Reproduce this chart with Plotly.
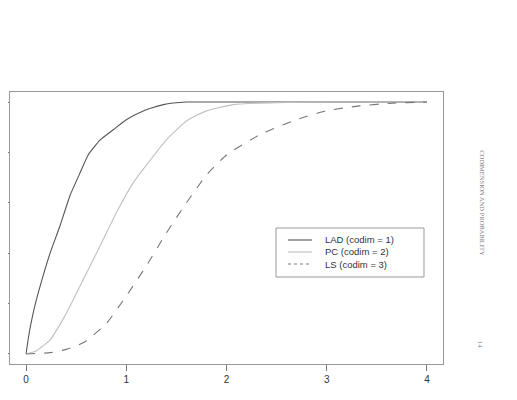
import plotly.graph_objects as go

# LAD (codim = 1)
lad_x = [0.0, 0.03, 0.07, 0.12, 0.17, 0.24, 0.34, 0.44, 0.54, 0.62, 0.74, 0.87, 1.0, 1.17, 1.37, 1.6, 2.0, 3.0, 4.0]
lad_y = [0.0, 0.08, 0.16, 0.24, 0.31, 0.40, 0.51, 0.63, 0.72, 0.79, 0.85, 0.89, 0.93, 0.965, 0.99, 1.0, 1.0, 1.0, 1.0]

# PC (codim = 2)
pc_x = [0.0, 0.1, 0.24, 0.40, 0.57, 0.74, 0.90, 1.07, 1.24, 1.40, 1.60, 1.80, 2.07, 2.5, 3.0, 4.0]
pc_y = [0.0, 0.012, 0.056, 0.16, 0.295, 0.43, 0.56, 0.68, 0.77, 0.85, 0.925, 0.965, 0.99, 0.998, 1.0, 1.0]

# LS (codim = 3)
ls_x = [0.0, 0.24, 0.40, 0.57, 0.80, 1.0, 1.20, 1.40, 1.60, 1.80, 2.0, 2.33, 2.66, 2.99, 3.33, 3.66, 4.0]
ls_y = [0.0, 0.005, 0.018, 0.044, 0.12, 0.23, 0.35, 0.48, 0.60, 0.71, 0.79, 0.87, 0.925, 0.965, 0.985, 0.996, 1.0]

x_ticks = [0, 1, 2, 3, 4]
y_ticks = [0, 0.2, 0.4, 0.6, 0.8, 1.0]

names = ["LAD (codim = 1)", "PC (codim = 2)", "LS (codim = 3)"]
colors = ["#555555", "#c0c0c0", "#777777"]
dashes = ["solid", "solid", "dash"]

fig = go.Figure()
for xs, ys, nm, c, d in zip([lad_x, pc_x, ls_x], [lad_y, pc_y, ls_y], names, colors, dashes):
    fig.add_trace(go.Scatter(x=xs, y=ys, mode="lines", name=nm, showlegend=False,
                             line=dict(color=c, width=1.1, dash=d, shape="spline", smoothing=0.5)))

# manual legend (paper coordinates)
shapes = [dict(type="rect", xref="paper", yref="paper", x0=0.6143, x1=0.9561, y0=0.3199, y1=0.5,
               line=dict(color="#999999", width=1), fillcolor="white", layer="above")]
annotations = []
row_y = [0.4559, 0.4118, 0.3676]
for ry, nm, c, d in zip(row_y, names, colors, dashes):
    shapes.append(dict(type="line", xref="paper", yref="paper", x0=0.642, x1=0.6975, y0=ry, y1=ry,
                       line=dict(color=c, width=1.1, dash="dot" if d == "dash" else "solid"), layer="above"))
    annotations.append(dict(text=nm, xref="paper", yref="paper", x=0.7229, y=ry, xanchor="left",
                            yanchor="middle", showarrow=False,
                            font=dict(family="Liberation Sans, Arial", size=9.5, color="#333333")))

annotations += [
    dict(text="CODIMENSION AND PROBABILITY", xref="paper", yref="paper",
         x=1.1035, y=0.59, textangle=90, showarrow=False,
         font=dict(family="Liberation Serif, DejaVu Serif", size=6.5, color="#777777")),
    dict(text="14", xref="paper", yref="paper",
         x=1.098, y=0.05, textangle=90, showarrow=False,
         font=dict(family="Liberation Serif, DejaVu Serif", size=6.5, color="#777777")),
]

fig.update_layout(
    width=517, height=400,
    margin=dict(l=2, r=82, t=84, b=44, autoexpand=False),
    paper_bgcolor="white", plot_bgcolor="white",
    font=dict(family="Liberation Sans, Arial", size=10, color="#333333"),
    showlegend=False,
    xaxis=dict(range=[-0.16, 4.16], tickvals=x_ticks, ticks="outside", ticklen=6,
               tickcolor="#777777", showgrid=False, zeroline=False, automargin=False,
               showline=True, mirror=True, linecolor="#999999", linewidth=1,
               tickfont=dict(size=10, color="#333333")),
    yaxis=dict(range=[-0.04, 1.04], tickvals=y_ticks, ticks="outside", ticklen=7,
               tickcolor="#777777", showgrid=False, zeroline=False, showticklabels=False,
               automargin=False,
               showline=True, mirror=True, linecolor="#999999", linewidth=1),
    shapes=shapes,
    annotations=annotations,
)

fig.write_html("out.html")
